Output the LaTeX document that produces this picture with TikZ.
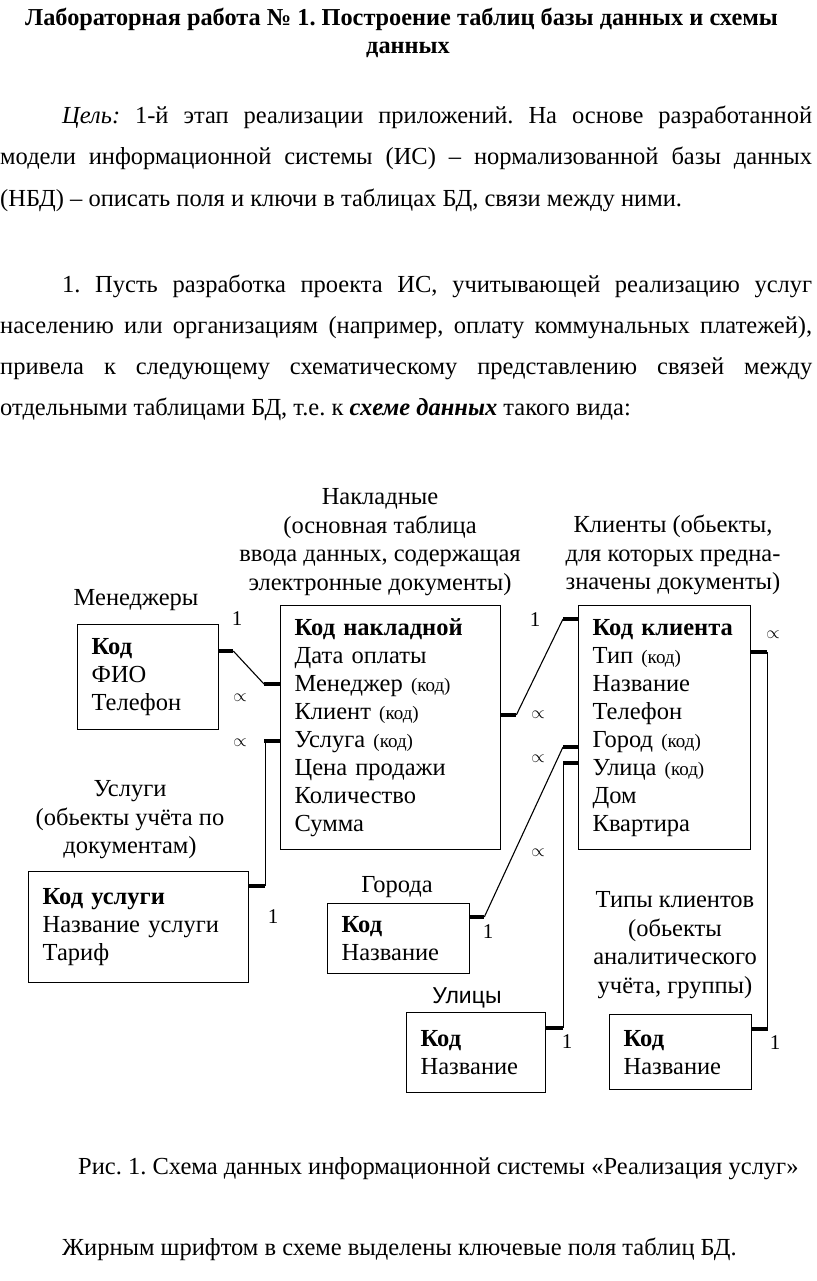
\documentclass[tikz,border=0pt]{standalone}
\usepackage{fontspec}
\setmainfont{Liberation Serif}
\newfontfamily\arialfont{Liberation Sans}
\usetikzlibrary{positioning,calc}
\newcommand{\kodsm}{{\fontsize{19}{19}\selectfont(код)}}
\newcommand{\bodyfs}{\fontsize{24.5}{28}\selectfont}
\frenchspacing

\tikzset{
	tbl/.style={draw, line width=1.3pt, anchor=north west, align=left, inner xsep=14pt, inner ysep=0pt,
		text width=#1, font=\fontsize{24.5}{28}\selectfont},
	ttl/.style={align=center, inner sep=0pt, font=\fontsize{24.5}{28.5}\selectfont},
	stub/.style={line width=3.6pt},
	link/.style={line width=1.1pt},
	card/.style={inner sep=0pt, font=\fontsize{21}{21}\selectfont},
	inf/.style={inner sep=0pt, font=\fontsize{19}{19}\selectfont},
	txt/.style={anchor=base west, inner sep=0pt, font=\bodyfs}
}

\begin{document}
\begin{tikzpicture}[x=1pt,y=-1pt]
			\useasboundingbox (0,0) rectangle (816,1281);
% 			header and text
			\node[txt, font=\fontsize{24.3}{28}\selectfont\bfseries] (head1) at (25,26) {Лабораторная работа № 1. Построение таблиц базы данных и схемы};
			\node[txt, anchor=base, font=\fontsize{24.3}{28}\selectfont\bfseries] (head2) at (408,54) {данных};
			\node[txt] (p1) at (62,124) {\makebox[750pt][s]{\textit{Цель:} 1-й этап реализации приложений. На основе разработанной}};
			\node[txt] (p2) at (0,165) {\makebox[812pt][s]{модели информационной системы (ИС) – нормализованной базы данных}};
			\node[txt] (p3) at (0,207) {(НБД) – описать поля и ключи в таблицах БД, связи между ними.};
			\node[txt] (q1) at (62,292) {\makebox[750pt][s]{1. Пусть разработка проекта ИС, учитывающей реализацию услуг}};
			\node[txt] (q2) at (0,333) {\makebox[812pt][s]{населению или организациям (например, оплату коммунальных платежей),}};
			\node[txt] (q3) at (0,374) {\makebox[812pt][s]{привела к следующему схематическому представлению связей между}};
			\node[txt] (q4) at (0,415) {отдельными таблицами БД, т.е. к \textbf{\textit{схеме данных}} такого вида:};

% 			tables
			\node[tbl=113pt, minimum height=105pt] (men) at (77,624) {\textbf{Код}\\ ФИО\\ Телефон};
			\node[tbl=192pt, minimum height=244pt] (nakl) at (280,605) {\textbf{Код накладной}\\ Дата оплаты\\ Менеджер \kodsm\\ Клиент \kodsm\\ Услуга \kodsm\\ Цена продажи\\ Количество\\ Сумма};
			\node[tbl=144pt, minimum height=244pt] (kli) at (578,605) {\textbf{Код клиента}\\ Тип \kodsm\\ Название\\ Телефон\\ Город \kodsm\\ Улица \kodsm\\ Дом\\ Квартира};
			\node[tbl=192pt, minimum height=111pt] (usl) at (28,871) {\textbf{Код услуги}\\ Название услуги\\ Тариф\\[6pt]};
			\node[tbl=114pt, minimum height=70pt] (gor) at (327,903) {\textbf{Код}\\ Название};
			\node[tbl=111pt, minimum height=80pt] (uli) at (406,1012) {\textbf{Код}\\ Название\\[-4pt]};
			\node[tbl=114pt, minimum height=75pt] (tip) at (609,1014) {\textbf{Код}\\ Название};

			\node[ttl] (tMen) at (136,600) {Менеджеры};
			\node[ttl] (tNakl) at (380,542) {Накладные\\ (основная таблица\\ ввода данных, содержащая\\ электронные документы)};
			\node[ttl] (tKli) at (673,555) {Клиенты (обьекты,\\ для которых предна-\\ значены документы)};
			\node[ttl] (tUsl) at (130,820) {Услуги\\ (обьекты учёта по\\ документам)};
			\node[ttl] (tGor) at (397,887) {Города};
			\node[ttl, font=\arialfont\fontsize{23}{26}\selectfont] (tUli) at (467,998) {Улицы};
			\node[ttl] (tTip) at (675,945) {Типы клиентов\\ (обьекты\\ аналитического\\ учёта, группы)};

% 			links
			\draw[stub] ([yshift=-27pt]men.north east) -- ++(14,0) coordinate (a1);
			\draw[stub] ([yshift=-79pt]nakl.north west) -- ++(-16,0) coordinate (a2);
			\draw[link] (a1) -- (a2);
			\draw[stub] ([yshift=-15pt]usl.north east) -- ++(16,0) coordinate (b1);
			\draw[stub] ([yshift=-136pt]nakl.north west) -- ++(-16,0) coordinate (b2);
			\draw[link] (b1) |- (b2);
			\draw[stub] ([yshift=-110pt]nakl.north east) -- ++(15,0) coordinate (c1);
			\draw[stub] ([yshift=-14pt]kli.north west) -- ++(-15,0) coordinate (c2);
			\draw[link] (c1) -- (c2);
			\draw[stub] ([yshift=-47pt]kli.north east) -- ++(16,0) coordinate (d1);
			\draw[stub] ([yshift=-15pt]tip.north east) -- ++(16,0) coordinate (d2);
			\draw[link] (d1) |- (d2);
			\draw[stub] ([yshift=-14pt]gor.north east) -- ++(14,0) coordinate (e1);
			\draw[stub] ([yshift=-142pt]kli.north west) -- ++(-15,0) coordinate (e2);
			\draw[link] (e1) -- (e2);
			\draw[stub] ([yshift=-16pt]uli.north east) -- ++(17,0) coordinate (f1);
			\draw[stub] ([yshift=-158pt]kli.north west) -- ++(-15,0) coordinate (f2);
			\draw[link] (f1) |- (f2);

			\node[card] (n1) at (237,619) {1};
			\node[card] (n2) at (273,917) {1};
			\node[card] (n3) at (535,620) {1};
			\node[card] (n4) at (488,932) {1};
			\node[card] (n5) at (567,1042) {1};
			\node[card] (n6) at (775,1043) {1};
			\node[inf] (m1) at (240,698) {$\propto$};
			\node[inf] (m2) at (240,743) {$\propto$};
			\node[inf] (m3) at (538,715) {$\propto$};
			\node[inf] (m4) at (538,759) {$\propto$};
			\node[inf] (m5) at (538,853) {$\propto$};
			\node[inf] (m6) at (773,635) {$\propto$};

% 			caption
			\node[txt] (cap) at (78,1174) {Рис. 1. Схема данных информационной системы «Реализация услуг»};
			\node[txt] (note) at (62,1255) {Жирным шрифтом в схеме выделены ключевые поля таблиц БД.};
\end{tikzpicture}
\end{document}
